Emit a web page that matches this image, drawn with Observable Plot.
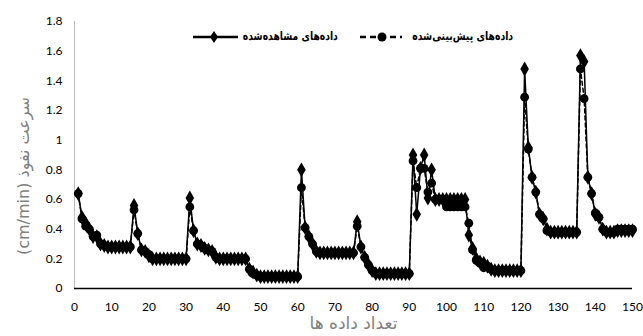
<!DOCTYPE html>
<html><head><meta charset="utf-8">
<script src="https://cdn.jsdelivr.net/npm/d3@7"></script>
<script src="https://cdn.jsdelivr.net/npm/@observablehq/plot@0.6"></script>
<style>
body{margin:0;background:#fff;}
#wrap{position:relative;width:643px;height:336px;overflow:hidden;}
.legtxt{position:absolute;top:29px;height:14px;line-height:14px;font-family:"DejaVu Sans";font-weight:bold;font-size:12px;direction:rtl;white-space:nowrap;color:#000;transform-origin:100% 50%;}
.legsym{position:absolute;top:30px;}
.ylab{position:absolute;left:23px;top:176px;transform:translate(-50%,-50%) rotate(-90deg);font-family:"DejaVu Sans";font-size:16px;color:#808080;direction:rtl;white-space:nowrap;}
</style></head><body><div id="wrap"></div>
<script>
const index = d3.range(1, 151);
const observed = [
0.64,0.48,0.44,0.40,0.35,0.35,0.30,0.29,0.28,0.28,
0.28,0.28,0.28,0.28,0.28,0.56,0.37,0.26,0.25,0.22,
0.20,0.20,0.20,0.20,0.20,0.20,0.20,0.20,0.20,0.20,
0.61,0.39,0.30,0.29,0.27,0.26,0.25,0.21,0.20,0.20,
0.20,0.20,0.20,0.20,0.20,0.20,0.13,0.11,0.09,0.08,
0.08,0.08,0.08,0.08,0.08,0.08,0.08,0.08,0.08,0.08,
0.80,0.41,0.35,0.30,0.25,0.24,0.24,0.24,0.24,0.24,
0.24,0.24,0.24,0.24,0.24,0.45,0.28,0.21,0.16,0.12,
0.10,0.10,0.10,0.10,0.10,0.10,0.10,0.10,0.10,0.10,
0.90,0.50,0.81,0.90,0.61,0.80,0.60,0.60,0.60,0.60,
0.60,0.60,0.60,0.60,0.60,0.36,0.27,0.20,0.18,0.17,
0.15,0.13,0.12,0.12,0.12,0.12,0.12,0.12,0.12,0.12,
1.48,0.95,0.75,0.65,0.50,0.47,0.40,0.38,0.38,0.38,
0.38,0.38,0.38,0.38,0.38,1.57,1.53,0.75,0.64,0.50,
0.48,0.40,0.38,0.38,0.38,0.39,0.39,0.39,0.39,0.39
];
const predicted = [
0.64,0.47,0.42,0.40,0.35,0.36,0.30,0.29,0.28,0.28,
0.28,0.28,0.28,0.28,0.28,0.53,0.37,0.26,0.25,0.23,
0.20,0.20,0.20,0.20,0.20,0.20,0.20,0.20,0.20,0.20,
0.55,0.39,0.30,0.29,0.27,0.26,0.25,0.21,0.20,0.20,
0.20,0.20,0.20,0.20,0.20,0.20,0.13,0.10,0.09,0.08,
0.08,0.08,0.08,0.08,0.08,0.08,0.08,0.08,0.08,0.08,
0.68,0.41,0.35,0.30,0.25,0.24,0.24,0.24,0.24,0.24,
0.24,0.24,0.24,0.24,0.24,0.42,0.28,0.21,0.16,0.12,
0.10,0.10,0.10,0.10,0.10,0.10,0.10,0.10,0.10,0.10,
0.86,0.68,0.81,0.81,0.65,0.71,0.60,0.60,0.60,0.55,
0.55,0.55,0.55,0.55,0.55,0.44,0.26,0.19,0.17,0.14,
0.15,0.13,0.12,0.12,0.12,0.12,0.12,0.12,0.12,0.12,
1.29,0.94,0.75,0.65,0.50,0.47,0.39,0.38,0.38,0.38,
0.38,0.38,0.38,0.38,0.38,1.48,1.28,0.75,0.64,0.51,
0.48,0.40,0.38,0.38,0.38,0.40,0.40,0.40,0.40,0.40
];
const xTicks = [0,10,20,30,40,50,60,70,80,90,100,110,120,130,140,150];
const yTicks = [0,0.2,0.4,0.6,0.8,1,1.2,1.4,1.6,1.8];
const seriesNames = ["داده‌های مشاهده‌شده", "داده‌های پیش‌بینی‌شده"];
const yLabel = "سرعت نفوذ (cm/min)";
const xLabel = "تعداد داده ها";

const data = index.map((x, i) => ({x, obs: observed[i], pred: predicted[i]}));

const chart = Plot.plot({
  width: 643, height: 336,
  marginLeft: 74, marginRight: 11, marginTop: 21, marginBottom: 48,
  style: {fontFamily: "Lato", fontSize: "12px", color: "#000", background: "#fff"},
  x: {domain: [0, 150]},
  y: {domain: [0, 1.8]},
  marks: [
    Plot.ruleX([0], {stroke: "#bfbfbf", strokeWidth: 1}),
    Plot.ruleY([0], {stroke: "#000", strokeWidth: 1.3}),
    Plot.axisX({ticks: xTicks, tickSize: 0, tickPadding: 14, label: null, tickFormat: d => String(d), fontSize: 12}),
    Plot.axisY({ticks: yTicks, tickSize: 0, tickPadding: 12, label: null, tickFormat: d => String(+d.toFixed(1)), fontSize: 12}),
    Plot.line(data, {x: "x", y: "obs", stroke: "#000", strokeWidth: 1.5}),
    Plot.dot(data, {x: "x", y: "obs", symbol: "diamond", r: 4.5, fill: "#000", stroke: "none"}),
    Plot.line(data, {x: "x", y: "pred", stroke: "#000", strokeWidth: 1.5, strokeDasharray: "4,3"}),
    Plot.dot(data, {x: "x", y: "pred", symbol: "circle", r: 4.4, fill: "#000", stroke: "none"}),
    Plot.text([xLabel], {text: d => d, frameAnchor: "bottom", dy: 40, fontSize: 17, fill: "#808080", fontFamily: "DejaVu Sans"})
  ]
});
const wrap = document.getElementById("wrap");
chart.style.position = "absolute"; chart.style.left = "0"; chart.style.top = "0";
wrap.appendChild(chart);

const yl = document.createElement("div"); yl.className = "ylab"; yl.textContent = yLabel; wrap.appendChild(yl);

// legend
function sym(kind) {
  const s = document.createElementNS("http://www.w3.org/2000/svg", "svg");
  s.setAttribute("width", 46); s.setAttribute("height", 14);
  if (kind === "obs") {
    s.innerHTML = '<line x1="0" x2="45" y1="7" y2="7" stroke="#000" stroke-width="2.5"/><path d="M21,1 L25,7 L21,13 L17,7 Z" fill="#000"/>';
  } else {
    s.innerHTML = '<line x1="0" x2="42" y1="7" y2="7" stroke="#000" stroke-width="2.5" stroke-dasharray="6,4"/><circle cx="22" cy="7" r="4.5" fill="#000"/>';
  }
  s.classList.add("legsym");
  return s;
}
function legText(txt, right, target) {
  const t = document.createElement("div");
  t.className = "legtxt"; t.textContent = txt; t.style.right = (643 - right) + "px";
  wrap.appendChild(t);
  const w = t.getBoundingClientRect().width;
  if (w > 0) t.style.transform = "scaleX(" + (target / w) + ")";
}
const s1 = sym("obs"); s1.style.left = "193px"; wrap.appendChild(s1);
legText(seriesNames[0], 338, 95);
const s2 = sym("pred"); s2.style.left = "360px"; wrap.appendChild(s2);
legText(seriesNames[1], 513, 101);
</script>
</body></html>
